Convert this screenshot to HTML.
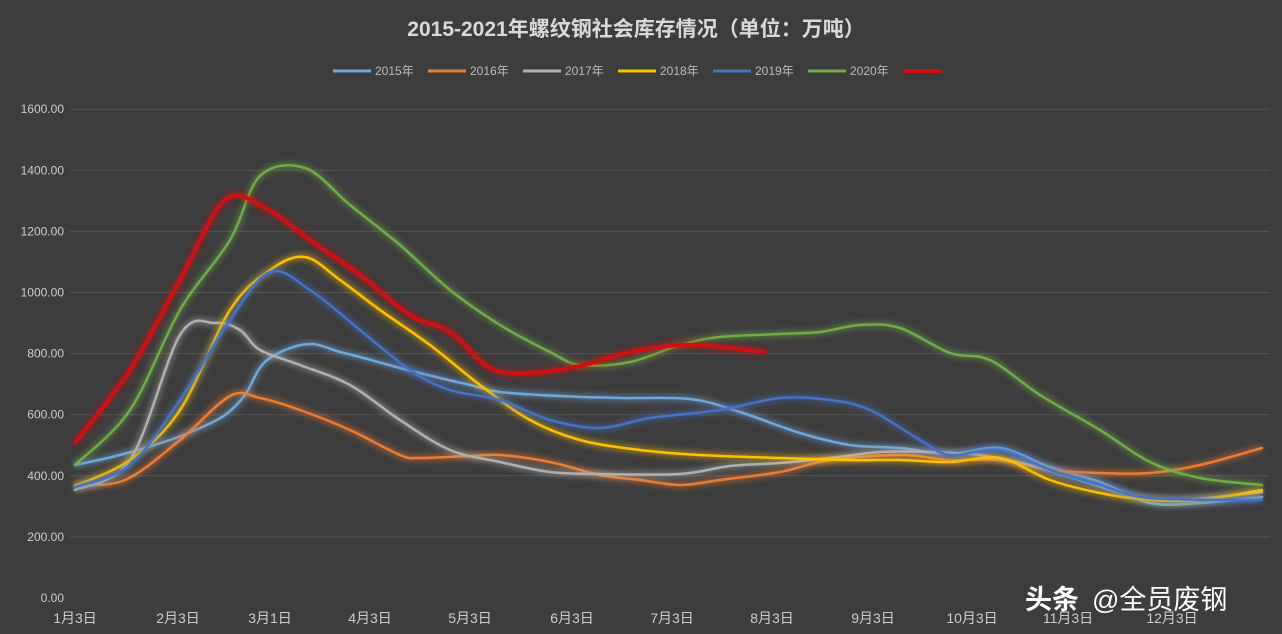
<!DOCTYPE html>
<html><head><meta charset="utf-8"><style>
html,body{margin:0;padding:0;background:#3d3d3d;overflow:hidden}
svg{display:block}
text{font-family:"Liberation Sans","Noto Sans CJK SC",sans-serif;}
</style></head><body>
<svg id="s" width="1282" height="634" xmlns="http://www.w3.org/2000/svg">
<defs><filter id="g" x="-10%" y="-10%" width="120%" height="120%"><feGaussianBlur stdDeviation="3"/></filter></defs>
<rect width="1282" height="634" fill="#3d3d3d"/>
<text x="636" y="36" text-anchor="middle" font-size="21" font-weight="bold" fill="#d9d9d9">2015-2021年螺纹钢社会库存情况（单位：万吨）</text>
<g id="grid" stroke="#555" stroke-width="1"></g>
<g id="ylab" font-size="12" fill="#cfcfcf" text-anchor="end"></g>
<g id="xlab" font-size="14" fill="#cfcfcf" text-anchor="middle"></g>
<g id="legend" font-size="12" fill="#bdbdbd"></g>
<g id="lines"></g>
<text x="1025" y="609" font-size="27" fill="#fff" font-weight="bold">头条</text>
<text x="1092" y="609" font-size="27" fill="#fff">@全员废钢</text>
</svg>
<script>
const NS="http://www.w3.org/2000/svg";
function el(p,t,a,txt){const e=document.createElementNS(NS,t);for(const k in a)e.setAttribute(k,a[k]);if(txt)e.textContent=txt;document.getElementById(p).appendChild(e);return e;}
for(let i=0;i<=8;i++){const y=598-i*61.1;if(i>0)el('grid','line',{x1:70,x2:1270,y1:y,y2:y});el('ylab','text',{x:64,y:y+4},(i*200).toFixed(2));}
const xl=[[75,'1月3日'],[178,'2月3日'],[270,'3月1日'],[370,'4月3日'],[470,'5月3日'],[572,'6月3日'],[672,'7月3日'],[772,'8月3日'],[873,'9月3日'],[972,'10月3日'],[1068,'11月3日'],[1172,'12月3日']];
xl.forEach(([x,t])=>el('xlab','text',{x:x,y:623},t));
const S=[
['2015年','#6fa8dc',[[75,465],[120,455],[170,440],[200,428],[225,415],[245,395],[262,365],[285,350],[312,344],[340,352],[360,357],[400,368],[440,378],[470,385],[500,392],[560,396],[620,398],[690,399],[740,412],[800,433],[850,445],[900,448],[950,454],[1000,448],[1050,467],[1100,482],[1150,503],[1200,503],[1262,497]]],
['2016年','#ed7d31',[[75,485],[125,480],[180,440],[230,396],[260,398],[300,410],[350,430],[400,455],[420,458],[470,456],[500,455],[550,462],[600,475],[640,480],[680,485],[720,480],[780,472],[830,460],[900,455],[950,460],[1000,460],[1050,470],[1100,473],[1150,473],[1200,465],[1262,448]]],
['2017年','#b0b0b0',[[75,490],[130,460],[180,335],[215,323],[240,330],[260,350],[300,365],[350,385],[400,420],[450,450],[500,462],[550,472],[600,474],[680,474],[730,466],[780,463],[830,458],[880,452],[930,452],[980,455],[1030,465],[1080,480],[1130,495],[1180,500],[1262,492]]],
['2018年','#ffc000',[[75,486],[130,460],[180,410],[230,310],[270,270],[305,257],[340,280],[380,310],[430,345],[480,385],[530,420],[580,440],[640,450],[700,455],[780,458],[850,460],[900,460],[950,462],[1000,458],[1050,480],[1100,493],[1150,500],[1200,500],[1262,490]]],
['2019年','#4472c4',[[75,487],[130,465],[180,400],[230,320],[270,272],[310,290],[360,330],[410,370],[450,390],[500,400],[550,420],[600,428],[650,418],[720,410],[780,398],[830,400],[870,410],[920,440],[950,455],[1000,450],[1050,470],[1100,485],[1150,498],[1262,500]]],
['2020年','#70ad47',[[75,465],[130,410],[180,310],[230,240],[260,176],[305,168],[350,205],[400,245],[450,290],[500,325],[550,352],[580,365],[630,362],[680,345],[720,337],[780,334],[820,332],[860,325],[900,328],[950,353],[990,360],[1040,395],[1100,430],[1150,462],[1200,478],[1262,485]]],
['','#d01010',[[75,443],[130,370],[180,280],[225,200],[265,208],[310,240],[360,275],[410,315],[450,332],[490,368],[530,373],[580,366],[630,352],[680,345],[720,347],[765,352]]]
];
function path(p){let d='M'+p[0][0]+','+p[0][1];for(let i=0;i<p.length-1;i++){const a=p[i-1]||p[i],b=p[i],c=p[i+1],e=p[i+2]||c;
d+=' C'+(b[0]+(c[0]-a[0])/6)+','+(b[1]+(c[1]-a[1])/6)+' '+(c[0]-(e[0]-b[0])/6)+','+(c[1]-(e[1]-b[1])/6)+' '+c[0]+','+c[1];}return d;}
S.forEach(([n,c,p],i)=>{const d=path(p);const w=i==6?4:2.5;
el('lines','path',{d:d,fill:'none',stroke:c,'stroke-width':w+4,opacity:0.45,filter:'url(#g)'});
el('lines','path',{d:d,fill:'none',stroke:c,'stroke-width':w,'stroke-linejoin':'round','stroke-linecap':'round'});
const lx=333+i*95;el('legend','line',{x1:lx,x2:lx+38,y1:71,y2:71,stroke:c,'stroke-width':i==6?4:3});
if(n)el('legend','text',{x:lx+42,y:75},n);});
</script>
</body></html>
